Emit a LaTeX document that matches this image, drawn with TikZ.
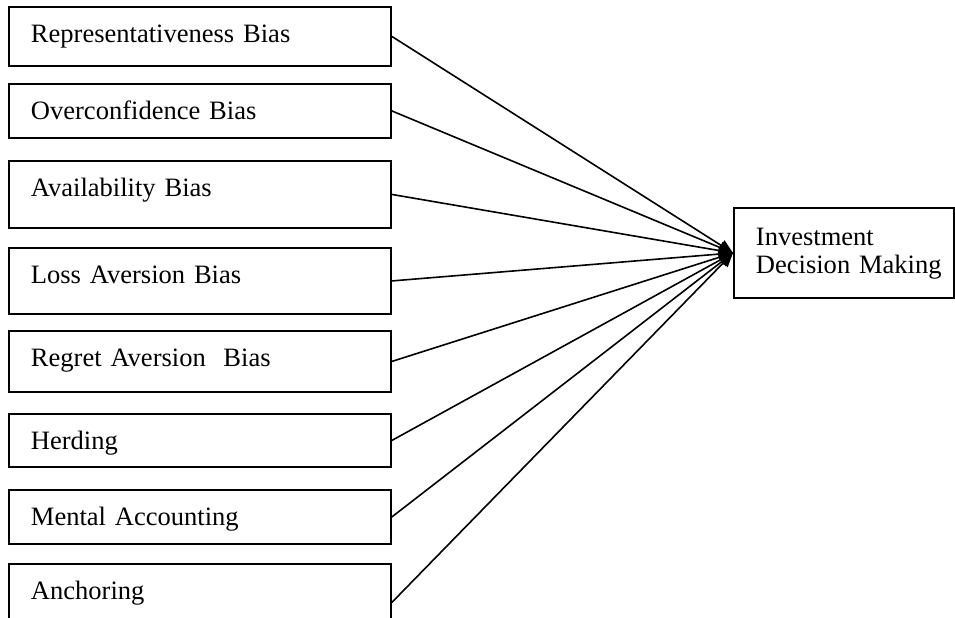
\documentclass[tikz,border=0pt]{standalone}
\usepackage{fontspec}
\setmainfont{Liberation Serif}
\usetikzlibrary{arrows.meta}

\tikzset{
  bias/.style={draw, line width=1.4pt, rectangle, anchor=north west,
    inner xsep=16.5pt, inner ysep=0pt, text width=253.5pt,
    text height=27pt, align=left},
  outcome/.style={draw, line width=1.4pt, rectangle, anchor=north west,
    inner xsep=16.5pt, inner ysep=0pt, text width=132pt,
    text height=28.5pt, text depth=39pt, align=left},
  link/.style={line width=1.2pt, -{Triangle[length=10.5pt,width=9pt]}}
}

\begin{document}
\begin{tikzpicture}[x=0.75pt, y=-0.75pt, font=\fontsize{19.9}{21}\selectfont]
  \useasboundingbox (0,0) rectangle (955,617);
  \clip (0,0) rectangle (955,617);

  % influencing biases
  \node[bias, text depth=17.25pt] (b1) at (8,6)   {Representativeness Bias};
  \node[bias, text depth=13.5pt]  (b2) at (8,83)  {Overconfidence Bias};
  \node[bias, text depth=23.25pt] (b3) at (8,160) {Availability Bias};
  \node[bias, text depth=22.5pt]  (b4) at (8,247) {Loss Aversion Bias};
  \node[bias, text depth=18.75pt] (b5) at (8,330) {Regret Aversion\ \ Bias};
  \node[bias, text depth=12.75pt] (b6) at (8,413) {Herding};
  \node[bias, text depth=13.5pt]  (b7) at (8,489) {Mental Accounting};
  \node[bias, text depth=30.75pt] (b8) at (8,563) {Anchoring};

  % outcome
  \node[outcome] (idm) at (733,207)
    {\begin{tabular}[t]{@{}l@{}}Investment\\Decision Making\end{tabular}};

  % connectors
  \foreach \b in {b1,b2,b3,b4,b5,b6,b7,b8}
    \draw[link] (\b.east) -- (idm.west);
\end{tikzpicture}
\end{document}
